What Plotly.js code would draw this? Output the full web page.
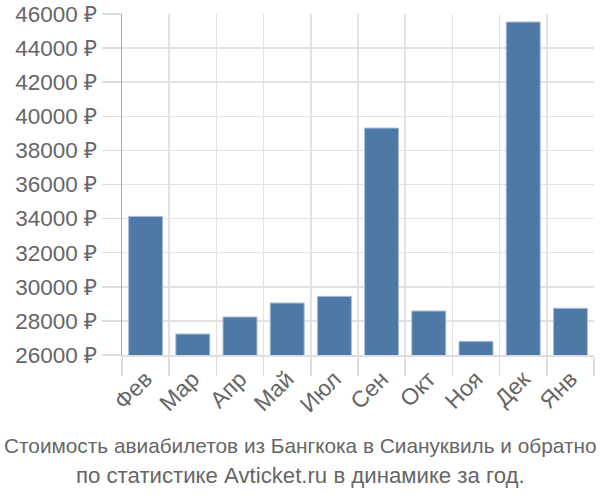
<!DOCTYPE html>
<html>
<head>
<meta charset="utf-8">
<script src="https://cdn.plot.ly/plotly-3.0.1.min.js"></script>
<style>html,body{margin:0;padding:0;background:#fff;}#chart{width:600px;height:500px;}</style>
</head>
<body>
<div id="chart"></div>
<script>
var months = ["Фев", "Мар", "Апр", "Май", "Июл", "Сен", "Окт", "Ноя", "Дек", "Янв"];
var prices = [34130, 27230, 28230, 29050, 29440, 39310, 28580, 26800, 45530, 28740];
var titleLines = ["Стоимость авиабилетов из Бангкока в Сиануквиль и обратно", "по статистике Avticket.ru в динамике за год."];

var font = "Liberation Sans, Arial, sans-serif";
var trace = {
  type: "bar",
  x: months,
  y: prices,
  marker: {color: "#4e79a7", line: {color: "#a9bdd6", width: 1}},
  width: 0.72,
  hoverinfo: "none"
};
var layout = {
  width: 600, height: 500,
  margin: {l: 122, r: 6, t: 14, b: 145},
  paper_bgcolor: "#fff", plot_bgcolor: "#fff",
  showlegend: false,
  font: {family: font, color: "#666"},
  xaxis: {
    type: "category",
    tickson: "boundaries",
    ticks: "outside", ticklen: 19, tickcolor: "#ddd", tickwidth: 1.5,
    showgrid: true, gridcolor: "#e2e2e2", gridwidth: 1.5,
    showline: true, linecolor: "#ddd", linewidth: 1.5,
    tickangle: -45,
    tickfont: {family: font, size: 23, color: "#666"},
    fixedrange: true
  },
  yaxis: {
    range: [26000, 46000],
    dtick: 2000, tick0: 26000,
    tickformat: "d", ticksuffix: " ₽",
    ticks: "outside", ticklen: 19, tickcolor: "#ddd", tickwidth: 1.5,
    showgrid: true, gridcolor: "#e2e2e2", gridwidth: 1.5,
    showline: true, linecolor: "#aaa", linewidth: 1.5,
    zeroline: false,
    tickfont: {family: font, size: 22.5, color: "#666"},
    fixedrange: true
  },
  annotations: [{
    xref: "paper", yref: "paper",
    x: 0.5, y: 0, xanchor: "center", yanchor: "top",
    xshift: -58, yshift: -77,
    text: titleLines[0],
    showarrow: false,
    font: {family: font, size: 20.8, color: "#666"}
  }, {
    xref: "paper", yref: "paper",
    x: 0.5, y: 0, xanchor: "center", yanchor: "top",
    xshift: -58, yshift: -106,
    text: titleLines[1],
    showarrow: false,
    font: {family: font, size: 22.2, color: "#666"}
  }]
};
Plotly.newPlot("chart", [trace], layout, {displayModeBar: false, staticPlot: true});
</script>
</body>
</html>
